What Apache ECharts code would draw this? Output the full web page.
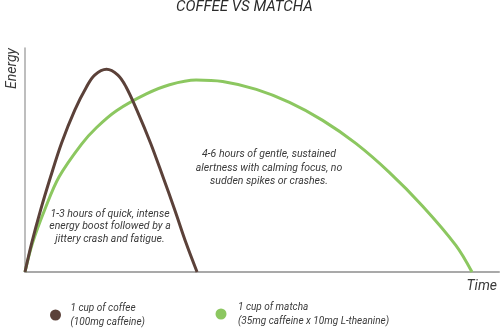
<!DOCTYPE html>
<html>
<head>
<meta charset="utf-8">
<script src="https://cdn.jsdelivr.net/npm/echarts@6/dist/echarts.min.js"></script>
<style>html,body{margin:0;padding:0;background:#fff}#c{width:500px;height:336px}</style>
</head>
<body>
<div id="c"></div>
<script>
const titleText = 'COFFEE VS MATCHA';
const xName = 'Time';
const yName = 'Energy';
const seriesNames = ['1 cup of coffee', '1 cup of matcha'];
const seriesSub = ['(100mg caffeine)', '(35mg caffeine x 10mg L-theanine)'];
const notes = [
  '1-3 hours of quick, intense\nenergy boost followed by a\njittery crash and fatigue.',
  '4-6 hours of gentle, sustained\nalertness with calming focus, no\nsudden spikes or crashes.'
];
const coffeeTime   = [0, 0.14, 0.33, 0.54, 0.77, 1.05, 1.30, 1.47, 1.72, 1.96, 2.13, 2.36, 2.65, 2.91, 3.16, 3.40, 3.63];
const coffeeEnergy = [0, 1.28, 2.77, 4.25, 5.75, 7.23, 8.27, 8.79, 9.05, 8.79, 8.27, 7.23, 5.75, 4.25, 2.77, 1.28, 0];
const matchaTime   = [0, 0.16, 0.42, 0.72, 1.19, 1.51, 1.93, 2.56, 3.05, 3.61, 4.17, 4.88, 5.58, 6.28, 6.98, 7.68, 8.39, 9.09, 9.43];
const matchaEnergy = [0, 1.30, 2.80, 4.25, 5.70, 6.45, 7.20, 7.95, 8.36, 8.57, 8.50, 8.15, 7.57, 6.77, 5.74, 4.46, 2.94, 1.19, 0];

const coffeeColor = '#5b4139';
const matchaColor = '#8cc760';
const textColor = '#3a3a3a';
const FONT = 'Roboto, "Noto Sans", sans-serif';

function pairs(xs, ys) { return xs.map((x, i) => [x, ys[i]]); }

const chart = echarts.init(document.getElementById('c'));
const legendText = {
  fontFamily: FONT, fontStyle: 'italic', fontWeight: 'normal', fontSize: 10,
  color: textColor, lineHeight: 14
};
chart.setOption({
  animation: false,
  title: {
    text: titleText, left: 176, top: 0, padding: 0,
    textStyle: { fontFamily: FONT, fontStyle: 'italic', fontWeight: 'normal', fontSize: 15, color: '#2b2b2b' }
  },
  grid: { left: 25, right: 0, top: 48, bottom: 64, containLabel: false },
  xAxis: {
    type: 'value', min: 0, max: 10,
    axisLine: { show: true, lineStyle: { color: '#a9a9a9', width: 2 } },
    axisTick: { show: false }, axisLabel: { show: false }, splitLine: { show: false },
    name: xName, nameLocation: 'end', nameGap: -2,
    nameTextStyle: { fontFamily: FONT, fontStyle: 'italic', fontWeight: 'normal', fontSize: 14, color: textColor,
      align: 'right', verticalAlign: 'top', padding: [7, 0, 0, 0] }
  },
  yAxis: {
    type: 'value', min: 0, max: 10,
    axisLine: { show: true, lineStyle: { color: '#a9a9a9', width: 1.5 } },
    axisTick: { show: false }, axisLabel: { show: false }, splitLine: { show: false },
    name: yName, nameLocation: 'end', nameGap: 0, nameRotate: 90,
    nameTextStyle: { fontFamily: FONT, fontStyle: 'italic', fontWeight: 'normal', fontSize: 14, color: textColor,
      align: 'right', verticalAlign: 'bottom', padding: [0, 0, 6, 0] }
  },
  legend: [
    {
      data: [seriesNames[0]], left: 45, top: 289, icon: 'circle', itemWidth: 11, itemHeight: 11,
      formatter: n => n + '\n' + seriesSub[0],
      textStyle: Object.assign({ padding: [14, 0, 0, 4.5] }, legendText)
    },
    {
      data: [seriesNames[1]], left: 210.5, top: 288, icon: 'circle', itemWidth: 11, itemHeight: 11,
      formatter: n => n + '\n' + seriesSub[1],
      textStyle: Object.assign({ padding: [14, 0, 0, 6.5] }, legendText)
    }
  ],
  series: [
    {
      name: seriesNames[1], type: 'line', data: pairs(matchaTime, matchaEnergy),
      smooth: 0.35, showSymbol: false, clip: false,
      itemStyle: { color: matchaColor }, lineStyle: { color: matchaColor, width: 3 }, z: 2
    },
    {
      name: seriesNames[0], type: 'line', data: pairs(coffeeTime, coffeeEnergy),
      smooth: 0.35, showSymbol: false, clip: false,
      itemStyle: { color: coffeeColor }, lineStyle: { color: coffeeColor, width: 3 }, z: 3
    }
  ],
  graphic: [
    { type: 'text', x: 110, y: 208, style: { text: notes[0], fill: textColor,
      font: 'italic 10.5px ' + FONT, align: 'center', verticalAlign: 'top', lineHeight: 12.4 } },
    { type: 'text', x: 269, y: 147.5, style: { text: notes[1], fill: textColor,
      font: 'italic 10.5px ' + FONT, align: 'center', verticalAlign: 'top', lineHeight: 13.7 } }
  ]
});
</script>
</body>
</html>
